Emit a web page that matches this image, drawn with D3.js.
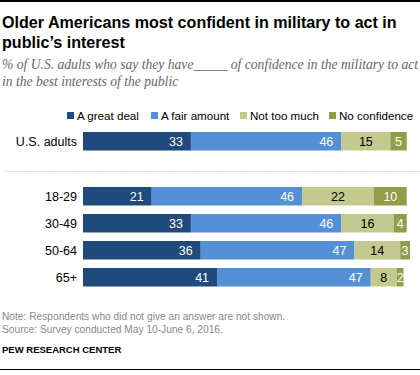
<!DOCTYPE html>
<html><head><meta charset="utf-8">
<script src="https://cdn.jsdelivr.net/npm/d3@7"></script>
<style>body{margin:0;background:#fff}svg{display:block}</style>
</head><body><div id="c"></div>
<script>
const categories = ["U.S. adults", "18-29", "30-49", "50-64", "65+"];
const seriesNames = ["A great deal", "A fair amount", "Not too much", "No confidence"];
const greatDeal = [33, 21, 33, 36, 41];
const fairAmount = [46, 46, 46, 47, 47];
const notTooMuch = [15, 22, 16, 14, 8];
const noConfidence = [5, 10, 4, 3, 2];
const colors = ["#204a7c", "#558fd5", "#c4c98f", "#939c48"];

const W = 420, H = 375;
const svg = d3.select("#c").append("svg").attr("width", W).attr("height", H);
const sans = "'Liberation Sans', Arial, sans-serif";

svg.append("line").attr("x1",0).attr("x2",W).attr("y1",1).attr("y2",1).attr("stroke","#000").attr("stroke-width",2);
const title = svg.append("text").attr("font-family",sans).attr("font-weight","bold").attr("font-size",16.1).attr("fill","#000");
title.append("tspan").attr("x",2).attr("y",28).text("Older Americans most confident in military to act in");
title.append("tspan").attr("x",2).attr("y",48).text("public\u2019s interest");
const sub = svg.append("text").attr("font-family","'Liberation Serif', 'Times New Roman', serif").attr("font-style","italic").attr("font-size",13.6).attr("fill","#666");
sub.append("tspan").attr("x",2).attr("y",69).text("% of U.S. adults who say they have_____ of confidence in the military to act");
sub.append("tspan").attr("x",2).attr("y",86).text("in the best interests of the public");

const data = categories.map((c,i)=>({cat:c, vals:[greatDeal[i],fairAmount[i],notTooMuch[i],noConfidence[i]]}));
const x = d3.scaleLinear().domain([0,100]).range([83,410]);
const yPos = {"U.S. adults":132, "18-29":187, "30-49":214, "50-64":241, "65+":268};
const bh = 18.5;

// legend
const legendX = [67, 151, 240, 329];
const lg = svg.append("g");
seriesNames.forEach((s,i)=>{
  lg.append("rect").attr("x",legendX[i]).attr("y",112).attr("width",7).attr("height",7).attr("fill",colors[i]);
  lg.append("text").attr("x",legendX[i]+10).attr("y",120).attr("font-family",sans).attr("font-size",11.6).attr("fill","#000").text(s);
});

// separator
svg.append("line").attr("x1",4).attr("x2",420).attr("y1",171.5).attr("y2",171.5).attr("stroke","#c8c8c8").attr("stroke-width",1).attr("stroke-dasharray","1.5,1.5");

data.forEach(d=>{
  const g = svg.append("g");
  const y0 = yPos[d.cat];
  g.append("text").attr("x",77).attr("y",y0+bh/2).attr("dy","0.35em").attr("text-anchor","end")
    .attr("font-family",sans).attr("font-size",12.5).attr("fill","#000").text(d.cat);
  let cum = 0;
  d.vals.forEach((v,i)=>{
    const xs = x(cum), xe = x(cum+v);
    g.append("rect").attr("x",xs).attr("y",y0).attr("width",xe-xs).attr("height",bh).attr("fill",colors[i]);
    const t = g.append("text").attr("y",y0+bh/2).attr("dy","0.36em").attr("font-family",sans).attr("font-size",12.5)
      .attr("fill", (i===0||i===1||i===3) ? "#fff" : "#000").text(v);
    if (i<2) t.attr("x",xe-8).attr("text-anchor","end");
    else t.attr("x",(xs+xe)/2).attr("text-anchor","middle");
    cum += v;
  });
});

const foot = svg.append("text").attr("font-family",sans).attr("font-size",10.2).attr("fill","#888");
foot.append("tspan").attr("x",2).attr("y",320).text("Note: Respondents who did not give an answer are not shown.");
foot.append("tspan").attr("x",2).attr("y",333).text("Source: Survey conducted May 10-June 6, 2016.");
svg.append("text").attr("x",2).attr("y",353).attr("font-family",sans).attr("font-weight","bold").attr("font-size",9.5).attr("fill","#000").text("PEW RESEARCH CENTER");
svg.append("line").attr("x1",0).attr("x2",W).attr("y1",369.5).attr("y2",369.5).attr("stroke","#000").attr("stroke-width",1.2);
</script></body></html>
